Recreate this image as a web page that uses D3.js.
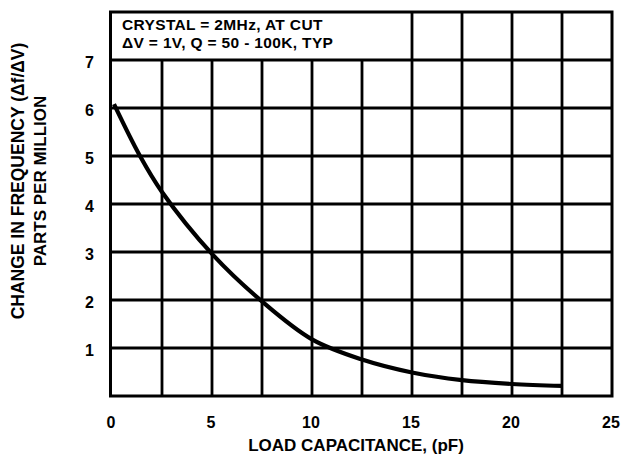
<!DOCTYPE html>
<html>
<head>
<meta charset="utf-8">
<script src="https://cdnjs.cloudflare.com/ajax/libs/d3/7.8.5/d3.min.js"></script>
<style>
  body { margin: 0; background: #fff; }
  text { font-family: "Liberation Sans", Arial, sans-serif; font-weight: bold; fill: #000; }
</style>
</head>
<body>
<svg id="chart" width="622" height="470"></svg>
<script>
// curve: load capacitance (pF) vs ppm change
var capacitance = [0.1, 1.4, 2.5, 5, 7.5, 10, 12.5, 15, 17.5, 20, 22.5];
var ppmChange   = [6.08, 5.0, 4.25, 2.96, 1.97, 1.18, 0.76, 0.49, 0.33, 0.25, 0.21];

var xTicks = [0, 5, 10, 15, 20, 25];
var yTicks = [1, 2, 3, 4, 5, 6, 7];
var xGrid = [2.5, 5, 7.5, 10, 12.5, 15, 17.5, 20, 22.5];
var yGrid = [1, 2, 3, 4, 5, 6, 7];

var noteLines = ["CRYSTAL = 2MHz, AT CUT", "\u0394V = 1V, Q = 50 - 100K, TYP"];
var xTitle = "LOAD CAPACITANCE, (pF)";
var yTitle = ["CHANGE IN FREQUENCY (\u0394f/\u0394V)", "PARTS PER MILLION"];

var svg = d3.select("#chart");

var x = d3.scaleLinear().domain([0, 25]).range([112, 612]);
var y = d3.scaleLinear().domain([0, 8]).range([396, 12]);

// grid - the note box covers the top row up to 15 pF
svg.selectAll(".vgrid")
    .data(xGrid)
    .enter().append("line")
    .attr("x1", function(d) { return x(d); })
    .attr("x2", function(d) { return x(d); })
    .attr("y1", y(0))
    .attr("y2", function(d) { return d < 15 ? y(7) : y(8); })
    .attr("stroke", "#000")
    .attr("stroke-width", 2.8);

svg.selectAll(".hgrid")
    .data(yGrid)
    .enter().append("line")
    .attr("x1", x(0))
    .attr("x2", x(25))
    .attr("y1", function(d) { return y(d); })
    .attr("y2", function(d) { return y(d); })
    .attr("stroke", "#000")
    .attr("stroke-width", 2.8);

svg.append("rect")
    .attr("x", x(0) - 1.5)
    .attr("y", y(8))
    .attr("width", x(25) - x(0) + 1.5)
    .attr("height", y(0) - y(8))
    .attr("fill", "none")
    .attr("stroke", "#000")
    .attr("stroke-width", 3);

// curve
var pts = capacitance.map(function(c, i) { return [c, ppmChange[i]]; });
var line = d3.line()
    .x(function(d) { return x(d[0]); })
    .y(function(d) { return y(d[1]); })
    .curve(d3.curveCatmullRom.alpha(0.5));

svg.append("path")
    .datum(pts)
    .attr("d", line)
    .attr("fill", "none")
    .attr("stroke", "#000")
    .attr("stroke-width", 4.2);

// note text
svg.selectAll(".note")
    .data(noteLines)
    .enter().append("text")
    .attr("x", 122)
    .attr("y", function(d, i) { return 30 + i * 18; })
    .style("font-size", "15.5px")
    .style("letter-spacing", "0.35px")
    .text(function(d) { return d; });

// tick labels
svg.selectAll(".xlab")
    .data(xTicks)
    .enter().append("text")
    .attr("x", function(d) { return x(d) - 1; })
    .attr("y", 428)
    .attr("text-anchor", "middle")
    .style("font-size", "16px")
    .text(function(d) { return d; });

svg.selectAll(".ylab")
    .data(yTicks)
    .enter().append("text")
    .attr("x", 94)
    .attr("y", function(d) { return y(d) + 8; })
    .attr("text-anchor", "end")
    .style("font-size", "16px")
    .text(function(d) { return d; });

// axis titles
svg.append("text")
    .attr("x", 356)
    .attr("y", 451)
    .attr("text-anchor", "middle")
    .style("font-size", "17px")
    .text(xTitle);

svg.selectAll(".ytitle")
    .data(yTitle)
    .enter().append("text")
    .attr("transform", function(d, i) { return "translate(" + (24 + i * 22) + ",181) rotate(-90)"; })
    .attr("text-anchor", "middle")
    .style("font-size", function(d, i) { return i === 0 ? "17.5px" : "17px"; })
    .text(function(d) { return d; });
</script>
</body>
</html>
